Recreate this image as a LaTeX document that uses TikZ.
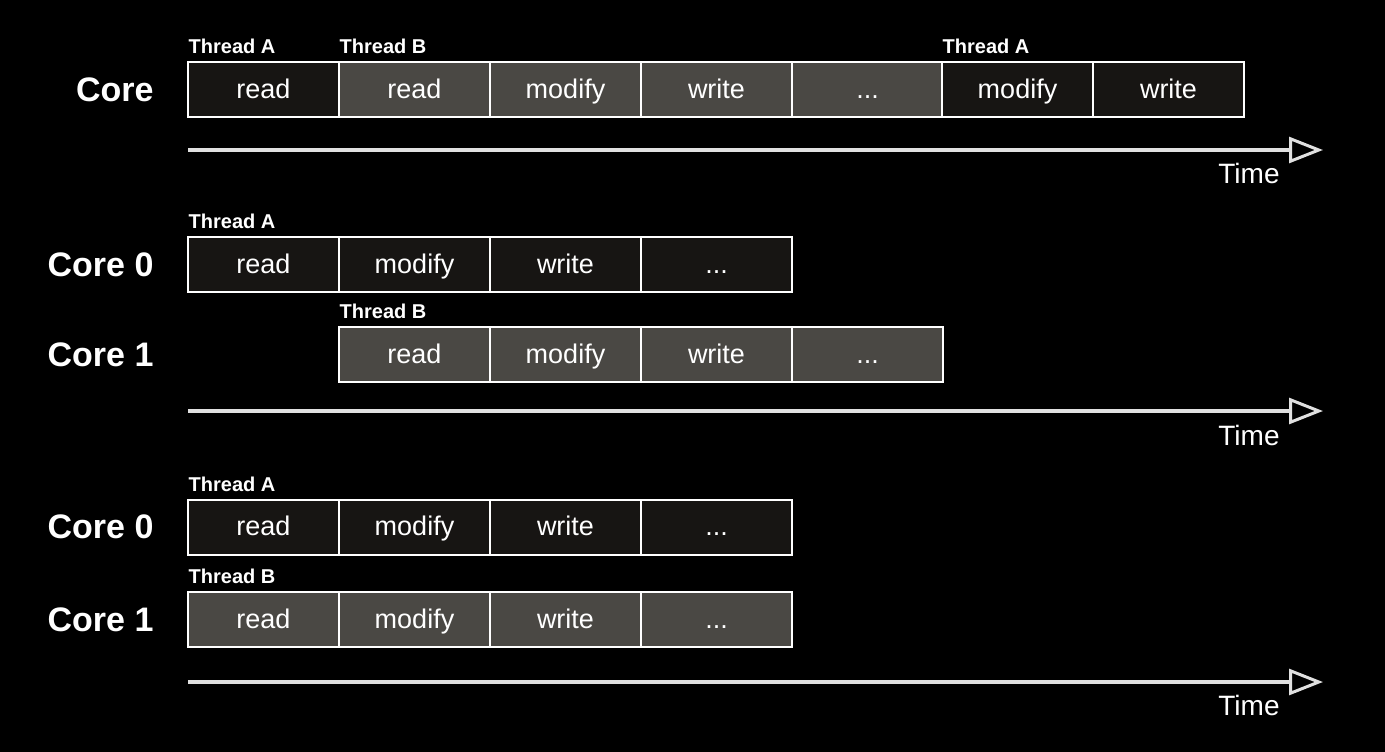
\documentclass[tikz,border=0pt]{standalone}
\usepackage{fontspec}
\setmainfont{Liberation Sans}
\usetikzlibrary{arrows.meta}
\definecolor{cellDark}{HTML}{171513}
\definecolor{cellGray}{HTML}{4A4844}
\definecolor{axisGray}{HTML}{E0E0E0}

\begin{document}
\begin{tikzpicture}[x=1pt, y=-1pt,
  cell/.style={draw=white, line width=2pt, minimum width=151pt, minimum height=55pt,
    inner sep=0pt, text height=22.5pt, text depth=5pt, text=white,
    font=\fontsize{27}{27}\selectfont},
  dark/.style={cell, fill=cellDark},
  gray/.style={cell, fill=cellGray},
  corelabel/.style={anchor=east, text=white, font=\fontsize{34}{34}\selectfont\bfseries},
  threadlabel/.style={anchor=base west, inner sep=0pt, xshift=1.5pt, yshift=7.5pt,
    text=white, font=\fontsize{20}{20}\selectfont\bfseries},
  timelabel/.style={text=white, font=\fontsize{28}{28}\selectfont},
  axis/.style={draw=axisGray, line width=4pt,
    -{Triangle[open, length=34pt, width=26pt, line width=3pt]}}]

\useasboundingbox[fill=black] (0,0) rectangle (1385,752);

% one core, two threads interleaved
\node[corelabel] (core) at (157, 89.5) {Core};
\node[dark] (r1) at (263.5, 89.5) {read};
\node[gray] (r2) at (414.5, 89.5) {read};
\node[gray] (r3) at (565.5, 89.5) {modify};
\node[gray] (r4) at (716.5, 89.5) {write};
\node[gray] (r5) at (867.5, 89.5) {...};
\node[dark] (r6) at (1017.5, 89.5) {modify};
\node[dark] (r7) at (1168.5, 89.5) {write};
\node[threadlabel] (ta1) at (r1.north west) {Thread A};
\node[threadlabel] (tb1) at (r2.north west) {Thread B};
\node[threadlabel] (ta2) at (r6.north west) {Thread A};
\coordinate (s1) at (188, 150);
\coordinate (e1) at (1323, 150);
\draw[axis] (s1) -- (e1);
\node[timelabel] (time1) at (1249, 173) {Time};

% two cores, shifted
\node[corelabel] (core0a) at (157, 264.5) {Core 0};
\node[dark] (a1) at (263.5, 264.5) {read};
\node[dark] (a2) at (414.5, 264.5) {modify};
\node[dark] (a3) at (565.5, 264.5) {write};
\node[dark] (a4) at (716.5, 264.5) {...};
\node[threadlabel] (ta3) at (a1.north west) {Thread A};
\node[corelabel] (core1a) at (157, 354.5) {Core 1};
\node[gray] (b1) at (414.5, 354.5) {read};
\node[gray] (b2) at (565.5, 354.5) {modify};
\node[gray] (b3) at (716.5, 354.5) {write};
\node[gray] (b4) at (867.5, 354.5) {...};
\node[threadlabel] (tb2) at (b1.north west) {Thread B};
\coordinate (s2) at (188, 411);
\coordinate (e2) at (1323, 411);
\draw[axis] (s2) -- (e2);
\node[timelabel] (time2) at (1249, 435) {Time};

% two cores, in step
\node[corelabel] (core0b) at (157, 527) {Core 0};
\node[dark] (c1) at (263.5, 527) {read};
\node[dark] (c2) at (414.5, 527) {modify};
\node[dark] (c3) at (565.5, 527) {write};
\node[dark] (c4) at (716.5, 527) {...};
\node[threadlabel] (ta4) at (c1.north west) {Thread A};
\node[corelabel] (core1b) at (157, 619.5) {Core 1};
\node[gray] (d1) at (263.5, 619.5) {read};
\node[gray] (d2) at (414.5, 619.5) {modify};
\node[gray] (d3) at (565.5, 619.5) {write};
\node[gray] (d4) at (716.5, 619.5) {...};
\node[threadlabel] (tb3) at (d1.north west) {Thread B};
\coordinate (s3) at (188, 682);
\coordinate (e3) at (1323, 682);
\draw[axis] (s3) -- (e3);
\node[timelabel] (time3) at (1249, 705) {Time};

\end{tikzpicture}
\end{document}
